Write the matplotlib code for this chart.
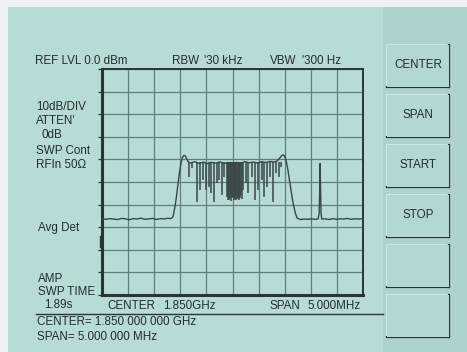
import matplotlib
matplotlib.use("Agg")
import matplotlib.pyplot as plt
from matplotlib.patches import Rectangle
from matplotlib.lines import Line2D

# ---------------- data ----------------
# frequency offset from 1.850 GHz centre (MHz) and level (dBm)
trace_freq = [-2.50, -2.42, -2.35, -2.28, -2.20, -2.12, -2.05, -1.98, -1.90, -1.83,
              -1.76, -1.68, -1.60, -1.53, -1.46, -1.38, -1.31, -1.24, -1.18,
              -1.14, -1.11, -1.08, -1.05, -1.02, -0.99, -0.96, -0.93, -0.90, -0.87, -0.84,
              -0.80, -0.72, -0.64, -0.56, -0.48, -0.40, -0.32, -0.24, -0.16, -0.08,
              0.00, 0.08, 0.16, 0.24, 0.32, 0.40, 0.48, 0.56, 0.64, 0.72, 0.80,
              0.86, 0.90, 0.94, 0.97, 1.00, 1.03, 1.06, 1.09, 1.12, 1.15, 1.18, 1.21, 1.24,
              1.30, 1.37, 1.44, 1.51, 1.58, 1.64,
              1.66, 1.672, 1.678, 1.685, 1.695, 1.71,
              1.78, 1.85, 1.92, 1.99, 2.06, 2.13, 2.20, 2.27, 2.34, 2.42, 2.50]
trace_level = [-66.3, -66.5, -66.2, -66.4, -66.6, -66.1, -66.3, -66.7, -66.2, -66.4,
               -66.0, -66.5, -66.3, -66.1, -66.6, -66.2, -66.4, -66.0, -66.2,
               -65.4, -62.0, -57.5, -52.0, -46.5, -42.0, -39.2, -38.2, -38.6, -40.2, -41.3,
               -41.6, -41.0, -41.8, -41.2, -41.9, -41.3, -41.7, -41.1, -41.8, -41.4,
               -41.9, -41.3, -41.7, -41.0, -41.5, -41.2, -41.6, -41.0, -41.4, -40.9, -41.2,
               -40.6, -39.5, -38.4, -38.0, -38.5, -40.8, -44.5, -49.0, -53.5, -58.0, -61.5, -64.2, -66.0,
               -66.6, -66.4, -66.5, -66.3, -66.5, -66.3,
               -64.0, -52.0, -41.8, -50.0, -63.5, -66.4,
               -66.3, -66.6, -66.2, -66.5, -66.3, -66.4, -66.1, -66.5, -66.3, -66.4, -66.2]

# notches inside the channel (frequency offset MHz, bottom level dBm)
notch_freq = [-0.827, -0.770, -0.674, -0.623, -0.571, -0.514, -0.456, -0.418, -0.354,
              -0.303, -0.252, -0.201, -0.157,
              -0.110, -0.095, -0.080, -0.065, -0.050, -0.035, -0.020, -0.005, 0.010, 0.025,
              0.040, 0.055, 0.070, 0.085, 0.100, 0.115, 0.130, 0.145, 0.160, 0.175,
              0.207, 0.259, 0.303, 0.367, 0.431, 0.494, 0.559, 0.603, 0.667, 0.718,
              0.770, 0.833, 0.885, 0.923]
notch_level = [-47.6, -43.9, -58.7, -53.5, -49.1, -53.5, -52.1, -55.0, -58.7,
               -50.6, -49.1, -55.8, -47.6,
               -56.5, -57.8, -56.0, -58.0, -57.2, -56.4, -58.2, -57.0, -56.8, -58.1,
               -57.4, -56.2, -57.9, -56.9, -57.6, -56.3, -58.0, -57.1, -55.8, -57.5,
               -53.5, -50.6, -55.0, -47.6, -58.0, -53.5, -49.1, -56.5, -52.1, -47.6,
               -58.7, -46.2, -47.6, -43.2]
band_top = -41.2

ref_level = 0.0
db_per_div = 10
span_mhz = 5.0

left_labels = [("REF LVL 0.0 dBm", 35, 61), ("10dB/DIV", 36, 107), ("ATTEN'", 36, 121),
               ("0dB", 41, 135), ("SWP Cont", 36, 151), ("RFIn 50\u03a9", 36, 165),
               ("Avg Det", 38, 228), ("AMP", 38, 279), ("SWP TIME", 38, 292),
               ("1.89s", 44, 305)]
top_labels = [("RBW", 172, 61), ("'30 kHz", 204, 61), ("VBW", 270, 61), ("'300 Hz", 302, 61)]
bottom_labels = [("CENTER", 107, 306), ("1.850GHz", 163, 306),
                 ("SPAN", 270, 306), ("5.000MHz", 307, 306),
                 ("CENTER= 1.850 000 000 GHz", 37, 322), ("SPAN= 5.000 000 MHz", 37, 337)]
button_labels = ["CENTER", "SPAN", "START", "STOP", "", ""]

# ---------------- figure ----------------
W, H = 467, 352
fig = plt.figure(figsize=(W / 100, H / 100), dpi=100)
fig.patch.set_facecolor("#b7dbd5")

def fx(x):
    return x / W

def fy(y):
    return 1 - y / H

# backgrounds
fig.patches.append(Rectangle((fx(383), 0), fx(W - 383), 1, transform=fig.transFigure,
                             facecolor="#aed3cd", edgecolor="none", zorder=0))
fig.patches.append(Rectangle((0, fy(7)), 1, fy(0) - fy(7), transform=fig.transFigure,
                             facecolor="#eef2f2", edgecolor="none", zorder=1))
fig.patches.append(Rectangle((0, 0), fx(8), 1, transform=fig.transFigure,
                             facecolor="#eef2f2", edgecolor="none", zorder=1))

TXT = "#262d2c"
FONT = dict(family="Liberation Sans", fontsize=8.4, color=TXT)

# axes
ax = fig.add_axes([fx(102), fy(295), fx(363) - fx(102), fy(69) - fy(295)])
ax.set_facecolor("#b7dbd5")
ax.set_xlim(-span_mhz / 2, span_mhz / 2)
ax.set_ylim(ref_level - 10 * db_per_div, ref_level)
ax.set_xticks([-2.5 + 0.5 * i for i in range(11)])
ax.set_yticks([ref_level - db_per_div * i for i in range(11)])
ax.grid(True, color="#617f7a", linewidth=0.9)
ax.tick_params(axis="y", length=3, width=0.9, color="#2c3432", direction="out",
               labelleft=False)
ax.tick_params(axis="x", length=0, labelbottom=False)
for s in ["top", "right"]:
    ax.spines[s].set_linewidth(1.4)
    ax.spines[s].set_color("#2c3432")
for s in ["left", "bottom"]:
    ax.spines[s].set_linewidth(2.2)
    ax.spines[s].set_color("#2c3432")

ax.vlines(notch_freq, notch_level, band_top, color="#3a4745", linewidth=1.1, zorder=3)
ax.plot(trace_freq, trace_level, color="#3a4745", linewidth=1.0, zorder=4)

# small marker left of the graticule
fig.add_artist(Line2D([fx(100), fx(100)], [fy(236), fy(247)], transform=fig.transFigure,
                      color="#2c3432", linewidth=1.0))

# texts
for t, x, y in left_labels + top_labels + bottom_labels:
    fig.text(fx(x), fy(y), t, ha="left", va="center", **FONT)

fig.add_artist(Line2D([fx(36), fx(383)], [fy(314), fy(314)], transform=fig.transFigure,
                      color="#2c3432", linewidth=1.0))

# buttons
for i, lab in enumerate(button_labels):
    top = 45 + 50 * i
    bot = top + 42
    fig.patches.append(Rectangle((fx(387), fy(bot)), fx(449) - fx(387), fy(top) - fy(bot),
                                 transform=fig.transFigure, facecolor="#b3d8d2",
                                 edgecolor="none", zorder=2))
    fig.add_artist(Line2D([fx(387), fx(449)], [fy(top), fy(top)], transform=fig.transFigure,
                          color="#d6ece8", linewidth=1.2))
    fig.add_artist(Line2D([fx(387), fx(387)], [fy(top), fy(bot)], transform=fig.transFigure,
                          color="#d6ece8", linewidth=1.2))
    fig.add_artist(Line2D([fx(449), fx(449)], [fy(top), fy(bot)], transform=fig.transFigure,
                          color="#2c3432", linewidth=1.6))
    fig.add_artist(Line2D([fx(387), fx(449)], [fy(bot), fy(bot)], transform=fig.transFigure,
                          color="#2c3432", linewidth=1.6))
    if lab:
        fig.text(fx(418), fy(top + 20), lab, ha="center", va="center", **FONT)

fig.savefig("out.png", dpi=100, facecolor=fig.get_facecolor())
